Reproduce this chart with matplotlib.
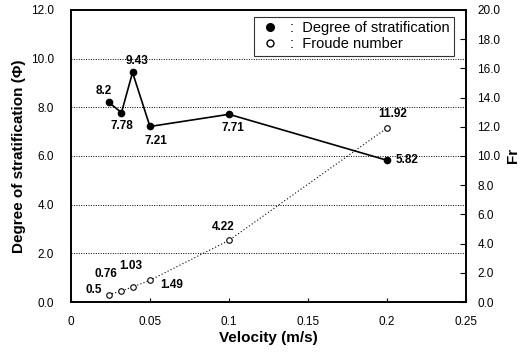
import matplotlib
matplotlib.use("Agg")
import matplotlib.pyplot as plt
from matplotlib.lines import Line2D

plt.rcParams['font.family'] = ['Liberation Sans', 'DejaVu Sans']

velocity = [0.024, 0.032, 0.039, 0.05, 0.1, 0.2]
stratification = [8.2, 7.78, 9.43, 7.21, 7.71, 5.82]
froude = [0.5, 0.76, 1.03, 1.49, 4.22, 11.92]
strat_labels = ["8.2", "7.78", "9.43", "7.21", "7.71", "5.82"]
froude_labels = ["0.5", "0.76", "1.03", "1.49", "4.22", "11.92"]

fig = plt.figure(figsize=(5.25, 3.52), dpi=100)
ax = fig.add_axes([0.135, 0.142, 0.753, 0.83])
ax2 = ax.twinx()

ax.set_xlim(0, 0.25)
ax.set_ylim(0, 12)
ax2.set_ylim(0, 20)

for y in [2, 4, 6, 8, 10]:
    ax.axhline(y, color='black', lw=0.7, ls=(0, (1, 1.5)), zorder=0)

ax.plot(velocity, stratification, '-o', color='black', lw=1.2, ms=4.5, zorder=3)
ax2.plot(velocity, froude, ls=(0, (1, 2)), color='black', lw=0.8,
         marker='o', mfc='white', mec='black', ms=4, mew=0.8, zorder=3)

s_off = [(-4, 4), (0, -14), (3, 4), (4, -15), (3, -14), (6, -4)]
s_ha = ['center', 'center', 'center', 'center', 'center', 'left']
for x, y, t, o, h in zip(velocity, stratification, strat_labels, s_off, s_ha):
    ax.annotate(t, (x, y), xytext=o, textcoords='offset points', fontsize=8.5,
                fontweight='bold', ha=h, va='bottom')
f_off = [(-11, -1), (-11, 8), (-1, 11), (16, -8), (-4, 5), (4, 6)]
for x, y, t, o in zip(velocity, froude, froude_labels, f_off):
    ax2.annotate(t, (x, y), xytext=o, textcoords='offset points', fontsize=8.5,
                 fontweight='bold', ha='center', va='bottom')

ax.set_xticks([0, 0.05, 0.1, 0.15, 0.2, 0.25])
ax.set_xticklabels(["0", "0.05", "0.1", "0.15", "0.2", "0.25"])
ax.set_yticks([0, 2, 4, 6, 8, 10, 12])
ax.set_yticklabels([f"{v:.1f}" for v in [0, 2, 4, 6, 8, 10, 12]])
ax2.set_yticks([0, 2, 4, 6, 8, 10, 12, 14, 16, 18, 20])
ax2.set_yticklabels([f"{v:.1f}" for v in range(0, 21, 2)])

ax.tick_params(axis='x', labelsize=8.5, direction='in', length=3, pad=10)
ax.tick_params(axis='y', labelsize=8.5, length=0, pad=12)
ax2.tick_params(axis='y', labelsize=8.5, direction='in', length=4, pad=8)

ax.set_xlabel("Velocity (m/s)", fontsize=11, fontweight='bold', labelpad=2)
ax.set_ylabel("Degree of stratification (\u03a6)", fontsize=11, fontweight='bold', labelpad=4)
ax2.set_ylabel("Fr", fontsize=11, fontweight='bold', labelpad=4)

for a in (ax, ax2):
    for sp in a.spines.values():
        sp.set_linewidth(1.2)

handles = [Line2D([], [], ls='none', marker='o', color='black', ms=5.5),
           Line2D([], [], ls='none', marker='o', mfc='white', mec='black', ms=5)]
leg = ax.legend(handles, [":  Degree of stratification", ":  Froude number"],
                loc='upper right', bbox_to_anchor=(0.97, 0.976), fontsize=10.5,
                frameon=True, fancybox=False, edgecolor='black', handletextpad=0.6,
                borderpad=0.3, labelspacing=0.15, handlelength=1.6, borderaxespad=0)
leg.get_frame().set_linewidth(0.8)

fig.savefig("out.png", dpi=100)
